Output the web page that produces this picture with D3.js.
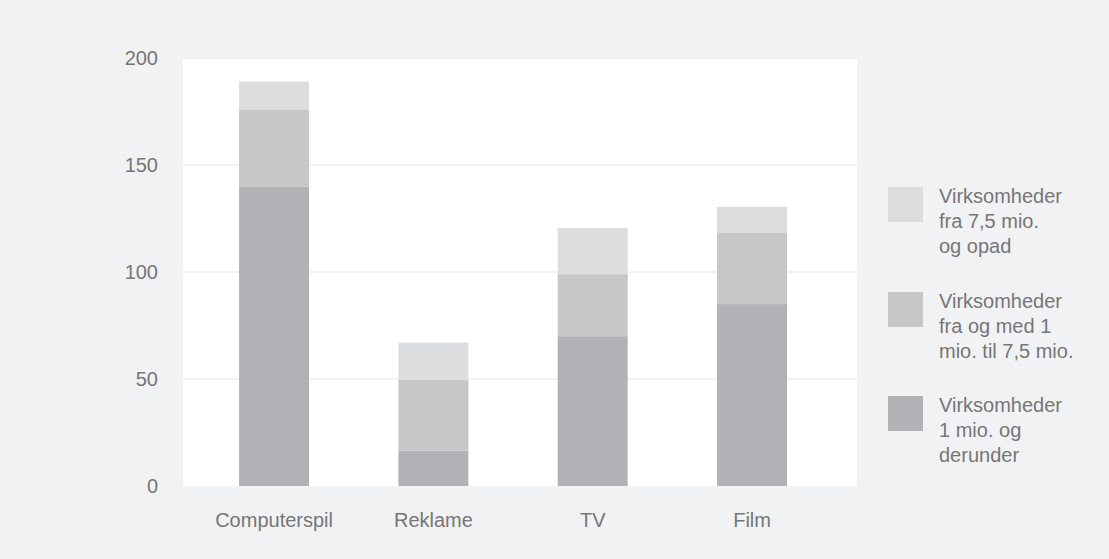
<!DOCTYPE html>
<html>
<head>
<meta charset="utf-8">
<script src="https://cdn.jsdelivr.net/npm/d3@7"></script>
<style>
  html, body { margin: 0; padding: 0; background: #f1f2f4; }
  svg { display: block; }
  text { font-family: "Liberation Sans", Arial, Helvetica, sans-serif; fill: #767676; }
</style>
</head>
<body>
<script>
const categories = ["Computerspil", "Reklame", "TV", "Film"];
const seriesNames = ["small", "medium", "large"];
const small  = [140, 16.5, 70, 85];     // Virksomheder 1 mio. og derunder
const medium = [36, 33, 29, 33.5];      // fra og med 1 mio. til 7,5 mio.
const large  = [13, 17.5, 21.5, 12];    // fra 7,5 mio. og opad
const yTicks = [0, 50, 100, 150, 200];
const legendLabels = [
  ["Virksomheder", "fra 7,5 mio.", "og opad"],
  ["Virksomheder", "fra og med 1", "mio. til 7,5 mio."],
  ["Virksomheder", "1 mio. og", "derunder"]
];
const colors = { small: "#b1b2b5", medium: "#c6c7c9", large: "#dcdddf" };

const W = 1109, H = 559;
const svg = d3.select("body").append("svg").attr("width", W).attr("height", H);
svg.append("rect").attr("width", W).attr("height", H).attr("fill", "#f1f2f4");

const plot = { left: 183, right: 857, top: 59, bottom: 486 };
svg.append("rect")
  .attr("x", plot.left).attr("y", plot.top)
  .attr("width", plot.right - plot.left).attr("height", plot.bottom - plot.top)
  .attr("fill", "#ffffff");

const y = d3.scaleLinear().domain([0, 200]).range([486, 58]);
const x = d3.scaleBand().domain(categories).range([194.4, 831.7])
  .paddingInner(0.5607).paddingOuter(0.28035);

// gridlines
svg.append("g").selectAll("line")
  .data(yTicks.filter(d => d > 0 && d < 200))
  .join("line")
  .attr("x1", plot.left).attr("x2", plot.right)
  .attr("y1", d => y(d)).attr("y2", d => y(d))
  .attr("stroke", "#f1f2f4").attr("stroke-width", 2);

// data table
const table = categories.map((c, i) => ({ cat: c, small: small[i], medium: medium[i], large: large[i] }));
const stacked = d3.stack().keys(seriesNames)(table);

svg.append("g").selectAll("g")
  .data(stacked)
  .join("g")
  .attr("fill", d => colors[d.key])
  .selectAll("rect")
  .data(d => d)
  .join("rect")
  .attr("x", d => x(d.data.cat))
  .attr("width", x.bandwidth())
  .attr("y", d => y(d[1]))
  .attr("height", d => y(d[0]) - y(d[1]));

// y axis
const yAxis = d3.axisLeft(y).tickValues(yTicks).tickSize(0).tickPadding(0);
const gy = svg.append("g").attr("transform", "translate(158,0)").call(yAxis);
gy.select(".domain").remove();
gy.selectAll("text").attr("font-size", "20px").style("font-family", "'Liberation Sans', Arial, sans-serif").attr("fill", "#767676");

// x axis
const xAxis = d3.axisBottom(x).tickSize(0).tickPadding(0);
const gx = svg.append("g").attr("transform", "translate(0,511)").call(xAxis);
gx.select(".domain").remove();
gx.selectAll("text").attr("font-size", "20px").attr("dy", "0.8em").style("font-family", "'Liberation Sans', Arial, sans-serif").attr("fill", "#767676");

// legend
const legendKeys = ["large", "medium", "small"];
const legendTops = [187, 292, 396];
const lg = svg.append("g");
legendKeys.forEach((k, i) => {
  lg.append("rect")
    .attr("x", 888).attr("y", legendTops[i])
    .attr("width", 35).attr("height", 35)
    .attr("fill", colors[k]);
  const t = lg.append("text")
    .attr("x", 939).attr("y", legendTops[i] + 16.3)
    .attr("font-size", "20px");
  legendLabels[i].forEach((line, j) => {
    t.append("tspan").attr("x", 939).attr("y", legendTops[i] + 16.3 + j * 25).text(line);
  });
});
</script>
</body>
</html>
